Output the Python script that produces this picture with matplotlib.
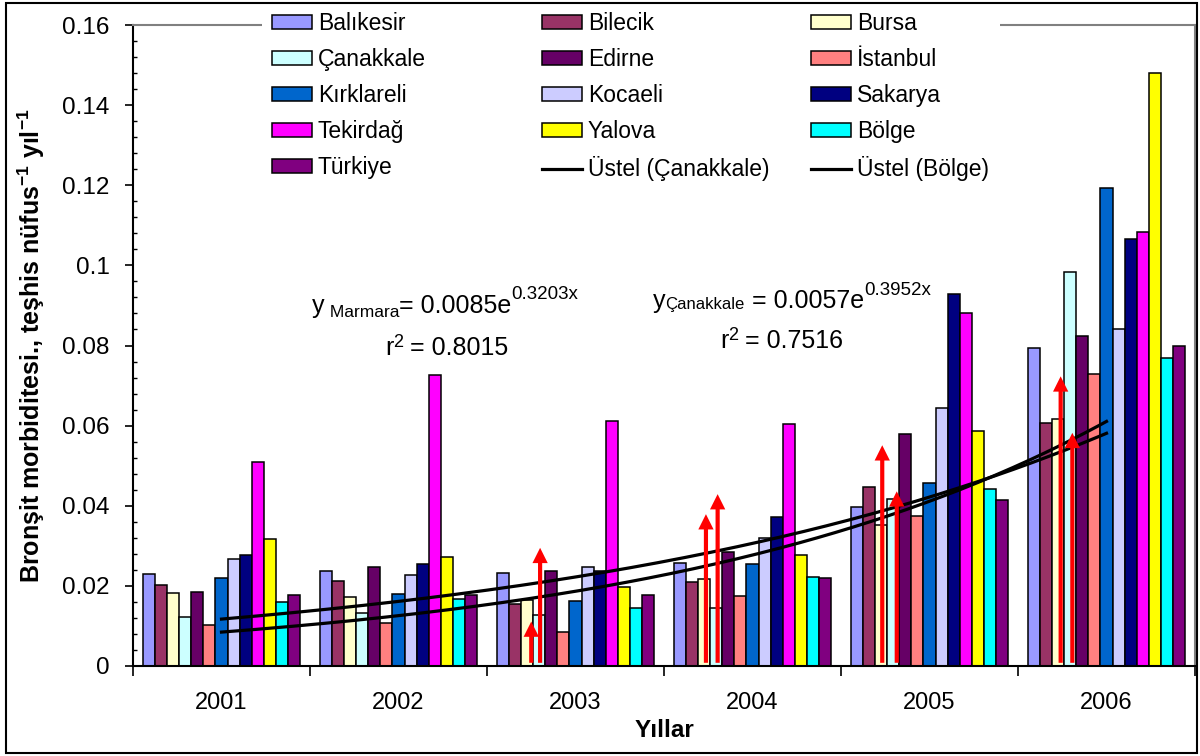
import matplotlib

matplotlib.use("Agg")
import matplotlib.pyplot as plt
import numpy as np
from matplotlib.patches import Rectangle
from matplotlib.ticker import MultipleLocator, FuncFormatter

plt.rcParams["font.family"] = ["Liberation Sans", "DejaVu Sans"]
plt.rcParams["mathtext.fontset"] = "custom"
plt.rcParams["mathtext.rm"] = "Liberation Sans"
plt.rcParams["mathtext.it"] = "Liberation Sans:italic"
plt.rcParams["mathtext.bf"] = "Liberation Sans:bold"

# --- data ---
years = ["2001", "2002", "2003", "2004", "2005", "2006"]
names = ["Balıkesir", "Bilecik", "Bursa", "Çanakkale", "Edirne", "İstanbul",
         "Kırklareli", "Kocaeli", "Sakarya", "Tekirdağ", "Yalova", "Bölge", "Türkiye"]
colors = ["#9999FF", "#993366", "#FFFFCC", "#CCFFFF", "#660066", "#FF8080",
          "#0066CC", "#CCCCFF", "#000080", "#FF00FF", "#FFFF00", "#00FFFF", "#800080"]

balikesir = [0.0229, 0.0238, 0.0232, 0.0258, 0.0396, 0.0793]
bilecik = [0.0202, 0.0211, 0.0154, 0.0210, 0.0448, 0.0607]
bursa = [0.0181, 0.0172, 0.0165, 0.0218, 0.0353, 0.0616]
canakkale = [0.0123, 0.0132, 0.0128, 0.0146, 0.0418, 0.0983]
edirne = [0.0184, 0.0246, 0.0236, 0.0284, 0.0578, 0.0824]
istanbul = [0.0102, 0.0107, 0.0084, 0.0175, 0.0374, 0.0728]
kirklareli = [0.0219, 0.0179, 0.0162, 0.0254, 0.0457, 0.1192]
kocaeli = [0.0267, 0.0228, 0.0248, 0.0319, 0.0643, 0.0840]
sakarya = [0.0276, 0.0254, 0.0238, 0.0371, 0.0928, 0.1066]
tekirdag = [0.0510, 0.0726, 0.0612, 0.0604, 0.0881, 0.1083]
yalova = [0.0318, 0.0271, 0.0197, 0.0276, 0.0586, 0.1480]
bolge = [0.0159, 0.0168, 0.0146, 0.0223, 0.0443, 0.0770]
turkiye = [0.0176, 0.0176, 0.0176, 0.0219, 0.0414, 0.0799]

series = [balikesir, bilecik, bursa, canakkale, edirne, istanbul, kirklareli,
          kocaeli, sakarya, tekirdag, yalova, bolge, turkiye]

# exponential trendlines as reported on the chart (x = 1..6)
marmara_a, marmara_b = 0.0085, 0.3203
canak_a, canak_b = 0.0057, 0.3952

# red arrows: year index, offset in the group, tip value
arrow_year = [2, 2, 3, 3, 4, 4, 5, 5]
arrow_offset = [-0.25, -0.20, -0.263, -0.197, -0.267, -0.185, -0.259, -0.193]
arrow_tip = [0.0111, 0.0295, 0.0379, 0.0429, 0.0551, 0.0436, 0.0723, 0.0582]
arrow_base = 0.0008

W, H = 1200, 756
fig = plt.figure(figsize=(W / 100, H / 100), dpi=100)
ax = fig.add_axes([133 / W, 1 - 666 / H, (1195 - 133) / W, (666 - 25) / H])

x = np.arange(len(years))
bw = 0.0684
bars = []
for i, (vals, c, n) in enumerate(zip(series, colors, names)):
    b = ax.bar(x + (i - 6) * bw, vals, width=bw, color=c, edgecolor="black",
               linewidth=1.1, label=n, zorder=2)
    bars.append(b)

xt = np.linspace(1, 6, 200)
l_can, = ax.plot(xt - 1, canak_a * np.exp(canak_b * xt), color="black", lw=2.3,
                 zorder=3, label="Üstel (Çanakkale)")
l_mar, = ax.plot(xt - 1, marmara_a * np.exp(marmara_b * xt), color="black", lw=2.3,
                 zorder=3, label="Üstel (Bölge)")

for yi, off, tip in zip(arrow_year, arrow_offset, arrow_tip):
    ax.annotate("", xy=(yi + off, tip), xytext=(yi + off, arrow_base),
                arrowprops=dict(arrowstyle="simple,head_length=1.1,head_width=1.1,tail_width=0.3",
                                color="red", mutation_scale=10, shrinkA=0, shrinkB=0, lw=0),
                zorder=4)

ax.set_xlim(-0.5, 5.5)
ax.set_ylim(0, 0.16)
ax.yaxis.set_major_locator(MultipleLocator(0.02))
ax.yaxis.set_minor_locator(MultipleLocator(0.004))
ax.yaxis.set_major_formatter(FuncFormatter(lambda v, p: "0" if abs(v) < 1e-9 else f"{v:g}"))
ax.tick_params(axis="y", which="major", direction="out", length=6, width=1.2,
               labelsize=17.5, pad=11)
ax.tick_params(axis="y", which="minor", direction="in", length=3, width=1.0)

ax.set_xticks(np.arange(-0.5, 6, 1))
ax.set_xticklabels([])
ax.set_xticks(x, minor=True)
ax.set_xticklabels(years, minor=True)
ax.tick_params(axis="x", which="major", direction="out", length=7, width=1.2)
ax.tick_params(axis="x", which="minor", length=0, labelsize=17, pad=19)

for s in ["left", "bottom"]:
    ax.spines[s].set_color("black")
    ax.spines[s].set_linewidth(1.5)
for s in ["top", "right"]:
    ax.spines[s].set_color("#808080")
    ax.spines[s].set_linewidth(1.5)

ax.set_ylabel("Bronşit morbiditesi., teşhis nüfus$^{\\mathbf{-1}}$ yıl$^{\\mathbf{-1}}$",
              fontsize=18, fontweight="bold")
ax.yaxis.set_label_coords((47 - 133) / 1062, 0.5)
ax.set_xlabel("Yıllar", fontsize=17.5, fontweight="bold")
ax.xaxis.set_label_coords(0.5, (666 - 719) / 641)

# equation annotations: pieces chained left to right (text, size, raise in px)
renderer = fig.canvas.get_renderer()


def rich_text(x0, base, parts):
    xpos = x0
    for s, size, dy in parts:
        t = fig.text(xpos / W, 1 - (base - dy) / H, s, fontsize=size,
                     ha="left", va="baseline")
        xpos += t.get_window_extent(renderer).width


rich_text(312, 313, [("y", 18, 0), (" Marmara", 12.5, -4), ("= 0.0085e", 18, 0),
                     ("0.3203x", 13.5, 14)])
rich_text(385, 355, [("r", 18, 0), ("2", 13, 8), (" = 0.8015", 18, 0)])
rich_text(653, 308, [("y", 18, 0), ("Çanakkale", 12, -1), (" = 0.0057e", 18, 0),
                     ("0.3952x", 13.5, 13)])
rich_text(720, 348, [("r", 18, 0), ("2", 13, 8), (" = 0.7516", 18, 0)])

# legend: white block over the plot border, three columns filled row by row
fig.add_artist(Rectangle((262 / W, 1 - 185 / H), (1000 - 262) / W, (185 - 6) / H,
                         transform=fig.transFigure, facecolor="white",
                         edgecolor="none", zorder=1))
handles = bars + [l_can, l_mar]
labels = names + ["Üstel (Çanakkale)", "Üstel (Bölge)"]
col_x = [272, 542, 811]
for c in range(3):
    fig.legend(handles[c::3], labels[c::3], loc="upper left",
               bbox_to_anchor=(col_x[c] / W, 1 - 12 / H),
               frameon=False, fontsize=16.5, borderpad=0, borderaxespad=0,
               handlelength=1.75, handleheight=0.55, handletextpad=0.25,
               labelspacing=0.57)

fig.add_artist(Rectangle((6 / W, 3 / H), (1197 - 6) / W, (753 - 3) / H,
                         transform=fig.transFigure, fill=False, edgecolor="black",
                         linewidth=1.5, zorder=10))

fig.savefig("out.png", dpi=100)
